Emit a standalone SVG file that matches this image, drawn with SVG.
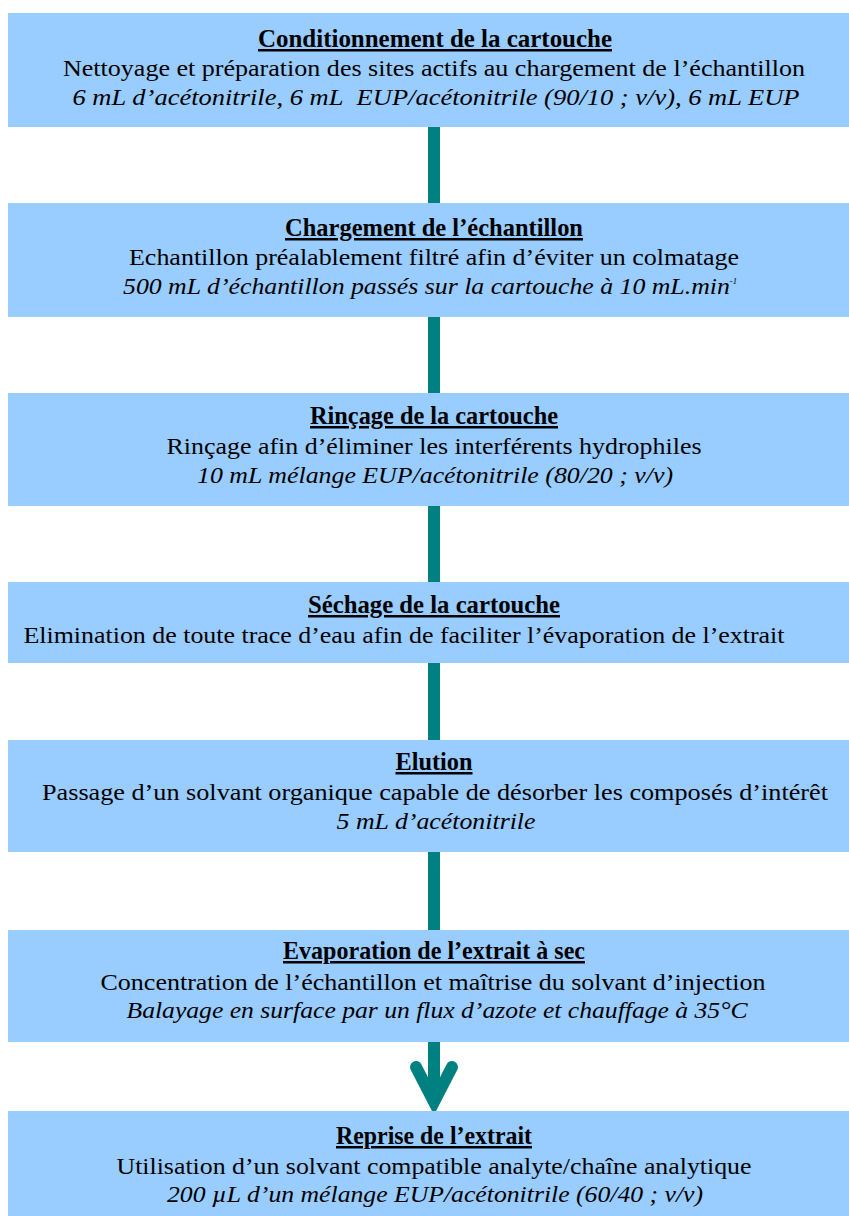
<svg xmlns="http://www.w3.org/2000/svg" width="849" height="1216" viewBox="0 0 849 1216">
<style>
.box{fill:#99CCFF;}
.t{font-family:"Liberation Serif","Times New Roman",serif;font-size:24px;fill:#000;text-anchor:middle;}
.h{font-weight:bold;font-size:25px;text-decoration:underline;}
.i{font-style:italic;}
.c{stroke:#008080;stroke-width:12;fill:none;}
</style>
<rect width="849" height="1216" fill="#fff"/>
<g id="connectors">
<line class="c" x1="434" y1="126" x2="434" y2="204"/>
<line class="c" x1="434" y1="316" x2="434" y2="394"/>
<line class="c" x1="434" y1="505" x2="434" y2="583"/>
<line class="c" x1="434" y1="662" x2="434" y2="741"/>
<line class="c" x1="434" y1="851" x2="434" y2="931"/>
<line class="c" x1="434" y1="1041" x2="434" y2="1098"/>
<polyline class="c" points="416,1067 434,1102 452,1067" stroke-linecap="round" stroke-linejoin="miter" stroke-miterlimit="10"/>
</g>
<g id="n1">
<rect class="box" x="8" y="13" width="841" height="114"/>
<text class="t h" x="435" y="47" textLength="354" lengthAdjust="spacingAndGlyphs">Conditionnement de la cartouche</text>
<text class="t" x="434" y="76" textLength="742" lengthAdjust="spacingAndGlyphs">Nettoyage et préparation des sites actifs au chargement de l’échantillon</text>
<text class="t i" x="436" y="105" textLength="727" lengthAdjust="spacingAndGlyphs">6 mL d’acétonitrile, 6 mL&#160; EUP/acétonitrile (90/10 ; v/v), 6 mL EUP</text>
</g>
<g id="n2">
<rect class="box" x="8" y="203" width="841" height="114"/>
<text class="t h" x="434" y="236" textLength="298" lengthAdjust="spacingAndGlyphs">Chargement de l’échantillon</text>
<text class="t" x="434" y="265" textLength="610" lengthAdjust="spacingAndGlyphs">Echantillon préalablement filtré afin d’éviter un colmatage</text>
<text class="t i" x="430" y="294" textLength="614" lengthAdjust="spacingAndGlyphs">500 mL d’échantillon passés sur la cartouche à 10 mL.min<tspan font-size="8" dy="-10">-1</tspan></text>
</g>
<g id="n3">
<rect class="box" x="8" y="393" width="841" height="113"/>
<text class="t h" x="434" y="424" textLength="248" lengthAdjust="spacingAndGlyphs">Rinçage de la cartouche</text>
<text class="t" x="434" y="454" textLength="535" lengthAdjust="spacingAndGlyphs">Rinçage afin d’éliminer les interférents hydrophiles</text>
<text class="t i" x="435" y="483" textLength="476" lengthAdjust="spacingAndGlyphs">10 mL mélange EUP/acétonitrile (80/20 ; v/v)</text>
</g>
<g id="n4">
<rect class="box" x="8" y="582" width="841" height="81"/>
<text class="t h" x="434" y="613" textLength="252" lengthAdjust="spacingAndGlyphs">Séchage de la cartouche</text>
<text class="t" x="404" y="643" textLength="761" lengthAdjust="spacingAndGlyphs">Elimination de toute trace d’eau afin de faciliter l’évaporation de l’extrait</text>
</g>
<g id="n5">
<rect class="box" x="8" y="740" width="841" height="112"/>
<text class="t h" x="434" y="770" textLength="77" lengthAdjust="spacingAndGlyphs">Elution</text>
<text class="t" x="435" y="800" textLength="786" lengthAdjust="spacingAndGlyphs">Passage d’un solvant organique capable de désorber les composés d’intérêt</text>
<text class="t i" x="436" y="829" textLength="199" lengthAdjust="spacingAndGlyphs">5 mL d’acétonitrile</text>
</g>
<g id="n6">
<rect class="box" x="8" y="930" width="841" height="112"/>
<text class="t h" x="434" y="959" textLength="302" lengthAdjust="spacingAndGlyphs">Evaporation de l’extrait à sec</text>
<text class="t" x="433" y="990" textLength="665" lengthAdjust="spacingAndGlyphs">Concentration de l’échantillon et maîtrise du solvant d’injection</text>
<text class="t i" x="437" y="1018" textLength="621" lengthAdjust="spacingAndGlyphs">Balayage en surface par un flux d’azote et chauffage à 35°C</text>
</g>
<g id="n7">
<rect class="box" x="8" y="1111" width="841" height="105"/>
<text class="t h" x="434" y="1144" textLength="196" lengthAdjust="spacingAndGlyphs">Reprise de l’extrait</text>
<text class="t" x="434" y="1174" textLength="635" lengthAdjust="spacingAndGlyphs">Utilisation d’un solvant compatible analyte/chaîne analytique</text>
<text class="t i" x="435" y="1202" textLength="536" lengthAdjust="spacingAndGlyphs">200 µL d’un mélange EUP/acétonitrile (60/40 ; v/v)</text>
</g>
</svg>
